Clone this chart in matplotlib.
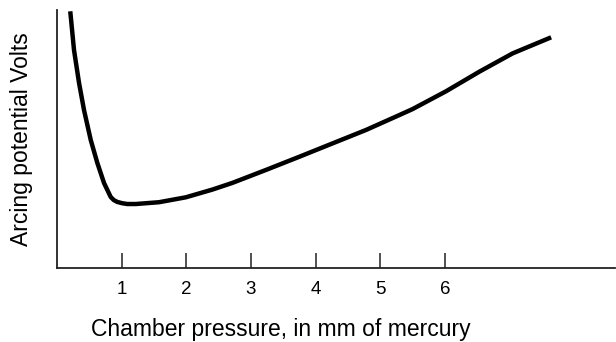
import matplotlib.pyplot as plt

# pressure (mm Hg) and arcing potential (arbitrary volts scale 0-100)
pressure = [0.205, 0.263, 0.341, 0.418, 0.522, 0.624, 0.728, 0.831, 0.88, 0.933, 1.01, 1.088,
            1.218, 1.579, 1.992, 2.404, 2.714, 3.231, 3.746, 4.262, 4.779, 5.243,
            5.500, 6.017, 6.533, 7.048, 7.642]
volts = [99.5, 84.5, 71.7, 61.2, 49.6, 40.7, 32.9, 27.5, 26.3, 25.6, 25.1, 24.8,
         24.8, 25.5, 27.4, 30.4, 33.0, 38.0, 43.1, 48.3, 53.5, 58.7,
         61.6, 68.5, 76.1, 83.2, 89.4]
tick_pos = [1, 2, 3, 4, 5, 6]
tick_labels = ['1', '2', '3', '4', '5', '6']

plt.rcParams['font.family'] = ['Liberation Sans', 'DejaVu Sans']

W, H = 616, 342
fig = plt.figure(figsize=(W / 100, H / 100), dpi=100)
ax = fig.add_axes([57 / W, (H - 268) / H, (615 - 57) / W, (268 - 10) / H])

ax.plot(pressure, volts, color='black', lw=3.2, solid_capstyle='butt',
        solid_joinstyle='round')

ax.set_xlim(0, 8.63)
ax.set_ylim(0, 100)

for side in ['top', 'right']:
    ax.spines[side].set_visible(False)
for side in ['left', 'bottom']:
    ax.spines[side].set_linewidth(1.3)
    ax.spines[side].set_color('#222222')

ax.set_xticks(tick_pos)
ax.set_xticklabels(tick_labels, fontsize=13.5)
ax.tick_params(axis='x', direction='in', length=11, width=1.1, pad=9, colors='#222222')
ax.tick_params(axis='x', labelcolor='black')
ax.set_yticks([])

fig.text(281 / W, 1 - 336 / H, 'Chamber pressure, in mm of mercury', ha='center', va='baseline',
         fontsize=16.5)
fig.text(22 / W, 1 - 139 / H, 'Arcing potential Volts', ha='center', va='center',
         rotation=90, fontsize=16.5)

fig.savefig('out.png', dpi=100)
